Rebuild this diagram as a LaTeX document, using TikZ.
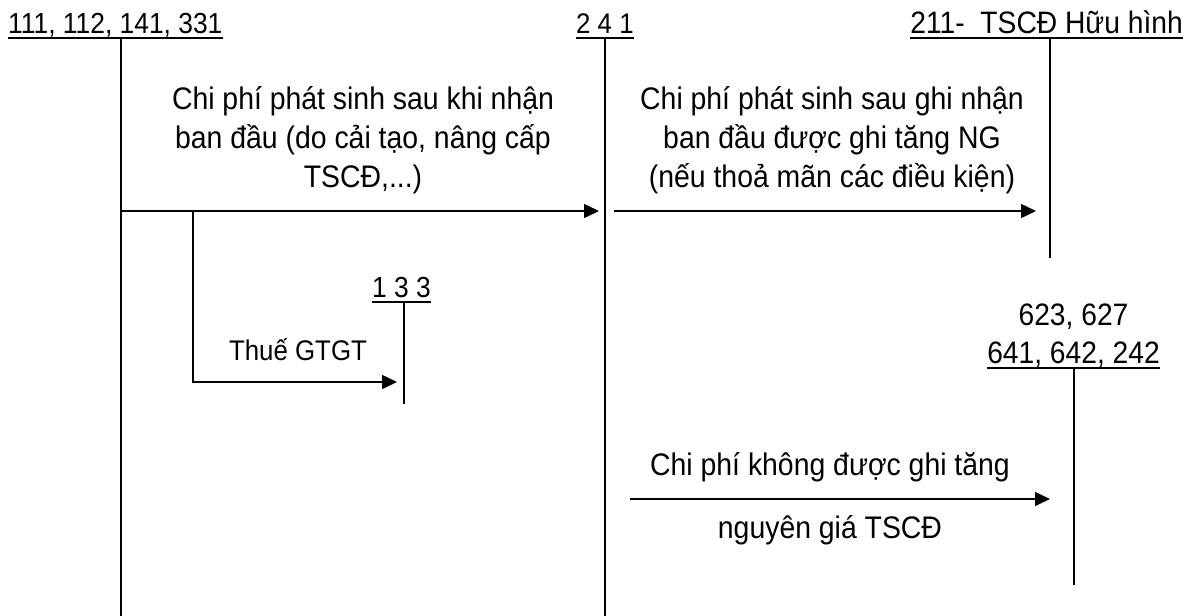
\documentclass[tikz,border=0pt]{standalone}
\usepackage{fontspec}
\setmainfont[FakeStretch=0.91]{Liberation Sans}
\usetikzlibrary{positioning,arrows.meta,calc}
\tikzset{
  acc/.style={inner sep=0pt, font=\fontsize{31}{36}\selectfont},
  ulin/.style={line width=2.6pt},
  tlin/.style={line width=1.8pt},
  post/.style={line width=1.5pt, -{Triangle[length=15pt, width=14pt]}}}

\begin{document}
\begin{tikzpicture}[x=1pt, y=-1pt,
  note/.style={inner sep=0pt, align=center, font=\fontsize{31.2}{39}\selectfont},
  snote/.style={inner sep=0pt, font=\fontsize{28.4}{33}\selectfont}]
\useasboundingbox (0,0) rectangle (1195,616);
% account headings
\node[acc, font=\fontsize{29}{34}\selectfont, anchor=base west] (k111) at (8,33) {111, 112, 141, 331};
\node[acc, font=\fontsize{28.4}{34}\selectfont, anchor=base west] (k241) at (576,33) {2 4 1};
\node[acc, anchor=base east] (k211) at (1183,33) {211-\ \ TSCĐ Hữu hình};
\node[acc, font=\fontsize{29}{34}\selectfont, anchor=base west] (k133) at (372,297) {1 3 3};
\node[acc, anchor=base east] (k642) at (1160,363) {641, 642, 242};
\node[acc, anchor=base] (k623) at ([yshift=38pt]k642.base) {623, 627};
\foreach \k in {k111,k241,k211,k133,k642}
  \draw[ulin] ([yshift=-5pt]\k.base west) -- ([yshift=-5pt]\k.base east);
% T lines
\foreach \k/\x/\ya/\yb in {111/121/39/616, 241/605/39/616, 211/1050/39/258, 133/404/302/404, 642/1074/369/585} {
  \coordinate (t\k) at (\x,\ya);
  \coordinate (b\k) at (\x,\yb);
  \draw[tlin] (t\k) -- (b\k);}
% postings
\coordinate (s1) at (121,211); \coordinate (e1) at (599,211);
\coordinate (s2) at (614,211); \coordinate (e2) at (1036,211);
\coordinate (j3) at (193,211); \coordinate (e3) at (397,382);
\coordinate (s4) at (630,499); \coordinate (e4) at (1050,499);
\draw[post] (s1) -- (e1);
\draw[post] (s2) -- (e2);
\draw[post] (j3) |- (e3);
\draw[post] (s4) -- (e4);
\node[note] (n1) at (363,140) {Chi phí phát sinh sau khi nhận\\ban đầu (do cải tạo, nâng cấp\\TSCĐ,...)};
\node[note] (n2) at (832,140) {Chi phí phát sinh sau ghi nhận\\ban đầu được ghi tăng NG\\(nếu thoả mãn các điều kiện)};
\node[snote, anchor=base] (n3) at (298,360) {Thuế GTGT};
\node[note, anchor=base] (n4) at (830,475) {Chi phí không được ghi tăng};
\node[note, anchor=base] (n5) at (830,538) {nguyên giá TSCĐ};
\end{tikzpicture}
\end{document}
